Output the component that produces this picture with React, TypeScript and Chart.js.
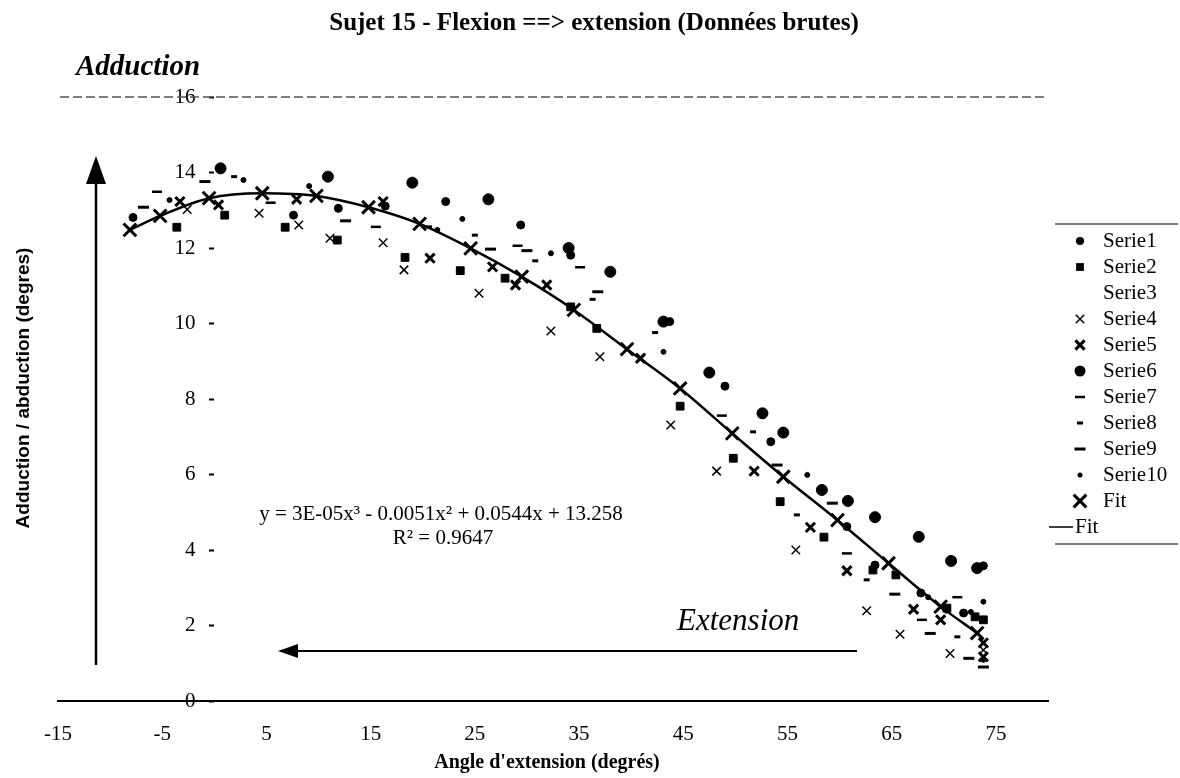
import React, { useEffect, useRef } from 'react';
import { Chart, registerables } from 'chart.js';

Chart.register(...registerables);

// ---------- data ----------
const X_TICKS = [-15, -5, 5, 15, 25, 35, 45, 55, 65, 75];
const Y_TICKS_STEP = 2;
const X_MIN = -15;
const X_MAX = 80;
const Y_MIN = 0;
const Y_MAX = 16;

const S1_X = [-7.8, 7.6, 11.9, 16.4, 22.2, 29.4, 34.2, 43.7, 49.0, 53.4, 60.7, 63.4, 67.8, 71.9, 73.8];
const S1_Y = [12.81, 12.87, 13.05, 13.11, 13.23, 12.61, 11.81, 10.05, 8.34, 6.87, 4.62, 3.6, 2.86, 2.33, 3.58];

const S2_X = [-3.6, 1.0, 6.8, 11.8, 18.3, 23.6, 27.9, 34.2, 36.7, 44.7, 49.8, 54.3, 58.5, 63.2, 65.4, 70.3, 73.0, 73.8];
const S2_Y = [12.55, 12.87, 12.55, 12.21, 11.75, 11.4, 11.2, 10.44, 9.87, 7.81, 6.43, 5.28, 4.34, 3.47, 3.34, 2.46, 2.23, 2.15];

const S3_X: number[] = [];
const S3_Y: number[] = [];

const S4_X = [-2.6, 4.3, 8.1, 11.1, 16.2, 18.2, 25.4, 32.3, 37.0, 43.8, 48.2, 55.8, 62.6, 65.8, 70.6, 73.8];
const S4_Y = [13.02, 12.92, 12.61, 12.26, 12.14, 11.42, 10.8, 9.8, 9.12, 7.31, 6.09, 4.0, 2.39, 1.77, 1.26, 1.35];

const S5_X = [-3.3, 0.4, 7.9, 16.2, 20.7, 26.7, 28.9, 31.9, 40.9, 51.8, 57.2, 60.7, 67.1, 69.7, 73.8, 73.8];
const S5_Y = [13.23, 13.14, 13.29, 13.23, 11.73, 11.5, 11.02, 11.02, 9.08, 6.09, 4.6, 3.45, 2.43, 2.15, 1.54, 1.17];

const S6_X = [0.6, 10.9, 19.0, 26.3, 34.0, 38.0, 43.1, 47.5, 52.6, 54.6, 58.3, 60.8, 63.4, 67.6, 70.7, 73.2];
const S6_Y = [14.11, 13.89, 13.73, 13.29, 12.0, 11.37, 10.05, 8.7, 7.62, 7.11, 5.59, 5.3, 4.87, 4.35, 3.71, 3.52];

const S7_X = [-5.5, 5.4, 15.5, 29.1, 35.1, 48.7, 60.7, 67.9, 71.3];
const S7_Y = [13.49, 13.2, 12.56, 12.06, 11.49, 7.56, 3.91, 2.15, 2.75];

const S8_X = [1.9, 20.6, 25.0, 30.8, 36.3, 42.3, 51.7, 55.9, 62.6, 71.3];
const S8_Y = [13.89, 12.56, 12.34, 11.66, 10.64, 9.76, 7.13, 4.93, 3.21, 1.7];

const S9_X = [-6.8, -0.9, 12.6, 26.5, 30.0, 36.8, 54.0, 59.3, 65.3, 68.7, 72.4, 73.8];
const S9_Y = [13.08, 13.76, 12.72, 11.97, 11.93, 10.84, 6.25, 5.24, 2.83, 1.79, 1.13, 0.9];

const S10_X = [-4.3, 2.8, 9.1, 21.4, 23.8, 32.3, 43.1, 56.9, 68.5, 72.6, 73.8, 73.8];
const S10_Y = [13.27, 13.8, 13.64, 12.48, 12.77, 11.86, 9.25, 5.99, 2.75, 2.36, 2.63, 1.09];

const FIT_X = [-8.1, -5.2, -0.5, 4.6, 9.8, 14.8, 19.7, 24.6, 29.5, 34.5, 39.6, 44.7, 49.7, 54.6, 59.8, 64.7, 69.7, 73.2];
const FIT_Y = [12.48, 12.85, 13.32, 13.45, 13.38, 13.08, 12.64, 11.99, 11.24, 10.36, 9.32, 8.28, 7.09, 5.94, 4.79, 3.65, 2.5, 1.8];

const TITLE = 'Sujet 15 - Flexion ==> extension (Données brutes)';
const X_TITLE = "Angle d'extension (degrés)";
const Y_TITLE = 'Adduction / abduction (degres)';
const TOP_NOTE = 'Adduction';
const ARROW_NOTE = 'Extension';
const EQUATION = 'y = 3E-05x³ - 0.0051x² + 0.0544x + 13.258';
const R2_TEXT = 'R² = 0.9647';

// ---------- helpers ----------
const pts = (xs: number[], ys: number[]) => xs.map((x, i) => ({ x, y: ys[i] }));

const SERIF = '"Liberation Serif", "Times New Roman", serif';
const SANS = '"Liberation Sans", Arial, sans-serif';

function drawMarker(ctx: CanvasRenderingContext2D, style: string, r: number, bw: number, x: number, y: number) {
  ctx.save();
  ctx.fillStyle = '#000';
  ctx.strokeStyle = '#000';
  ctx.lineWidth = bw;
  ctx.beginPath();
  if (style === 'circle') {
    ctx.arc(x, y, r, 0, Math.PI * 2);
    ctx.fill();
  } else if (style === 'rect') {
    const s = r * Math.SQRT1_2;
    ctx.rect(x - s, y - s, 2 * s, 2 * s);
    ctx.fill();
  } else if (style === 'crossRot') {
    const d = r * Math.SQRT1_2;
    ctx.moveTo(x - d, y - d);
    ctx.lineTo(x + d, y + d);
    ctx.moveTo(x - d, y + d);
    ctx.lineTo(x + d, y - d);
    ctx.stroke();
  } else if (style === 'line') {
    ctx.moveTo(x - r, y);
    ctx.lineTo(x + r, y);
    ctx.stroke();
  }
  ctx.restore();
}

const decoPlugin = {
  id: 'deco',
  beforeDraw(chart: any) {
    const ctx = chart.ctx as CanvasRenderingContext2D;
    ctx.save();
    ctx.fillStyle = '#fff';
    ctx.fillRect(0, 0, chart.width, chart.height);
    ctx.restore();
  },
  afterDraw(chart: any) {
    const ctx = chart.ctx as CanvasRenderingContext2D;
    const ys = chart.scales.y;
    ctx.save();
    ctx.fillStyle = '#000';
    ctx.strokeStyle = '#000';

    // title
    ctx.font = `bold 25px ${SERIF}`;
    ctx.textAlign = 'center';
    ctx.textBaseline = 'middle';
    ctx.fillText(TITLE, 594, 24);

    // "Adduction"
    ctx.font = `italic bold 29px ${SERIF}`;
    ctx.textAlign = 'left';
    ctx.fillText(TOP_NOTE, 76, 68);

    // top dashed line at max
    const yTop = ys.getPixelForValue(Y_MAX);
    ctx.save();
    ctx.strokeStyle = '#555';
    ctx.lineWidth = 1.5;
    ctx.setLineDash([9, 4]);
    ctx.beginPath();
    ctx.moveTo(60, yTop);
    ctx.lineTo(1046, yTop);
    ctx.stroke();
    ctx.restore();

    // Y title
    ctx.save();
    ctx.translate(24, 388);
    ctx.rotate(-Math.PI / 2);
    ctx.font = `bold 19px ${SANS}`;
    ctx.textAlign = 'center';
    ctx.textBaseline = 'middle';
    ctx.fillText(Y_TITLE, 0, 0);
    ctx.restore();

    // X title
    ctx.font = `bold 20px ${SERIF}`;
    ctx.textAlign = 'center';
    ctx.textBaseline = 'middle';
    ctx.fillText(X_TITLE, 547, 763);

    // vertical arrow
    ctx.lineWidth = 2.5;
    ctx.beginPath();
    ctx.moveTo(96, 665);
    ctx.lineTo(96, 180);
    ctx.stroke();
    ctx.beginPath();
    ctx.moveTo(96, 156);
    ctx.lineTo(86, 184);
    ctx.lineTo(106, 184);
    ctx.closePath();
    ctx.fill();

    // horizontal arrow
    ctx.lineWidth = 2;
    ctx.beginPath();
    ctx.moveTo(857, 651);
    ctx.lineTo(294, 651);
    ctx.stroke();
    ctx.beginPath();
    ctx.moveTo(278, 651);
    ctx.lineTo(298, 644);
    ctx.lineTo(298, 658);
    ctx.closePath();
    ctx.fill();

    // "Extension"
    ctx.font = `italic 31px ${SERIF}`;
    ctx.textAlign = 'left';
    ctx.textBaseline = 'middle';
    ctx.fillText(ARROW_NOTE, 677, 622);

    // equation
    ctx.font = `21px ${SERIF}`;
    ctx.textAlign = 'center';
    ctx.fillText(EQUATION, 441, 514);
    ctx.fillText(R2_TEXT, 443, 538);

    // legend
    const legTop = 241;
    const legStep = 26;
    const n = chart.data.datasets.length;
    ctx.lineWidth = 1.2;
    ctx.beginPath();
    ctx.moveTo(1055, legTop - 17);
    ctx.lineTo(1178, legTop - 17);
    ctx.moveTo(1055, legTop + (n - 1) * legStep + 17);
    ctx.lineTo(1178, legTop + (n - 1) * legStep + 17);
    ctx.stroke();
    ctx.font = `21px ${SERIF}`;
    ctx.textBaseline = 'middle';
    ctx.textAlign = 'left';
    chart.data.datasets.forEach((ds: any, i: number) => {
      const y = legTop + i * legStep;
      if (ds.showLine) {
        ctx.save();
        ctx.lineWidth = 1.5;
        ctx.beginPath();
        ctx.moveTo(1049, y);
        ctx.lineTo(1073, y);
        ctx.stroke();
        ctx.restore();
        ctx.fillText(ds.label, 1075, y);
      } else {
        if (ds.pointRadius > 0) {
          drawMarker(ctx, ds.pointStyle, ds.pointRadius, ds.borderWidth, 1080, y);
        }
        ctx.fillText(ds.label, 1103, y);
      }
    });
    ctx.restore();
  },
};

function makeDataset(label: string, xs: number[], ys: number[], style: string, r: number, bw: number) {
  return {
    label,
    data: pts(xs, ys),
    pointStyle: style,
    pointRadius: r,
    pointHoverRadius: r,
    borderWidth: bw,
    pointBorderWidth: bw,
    backgroundColor: '#000',
    borderColor: '#000',
    showLine: false,
  };
}

export default function App() {
  const ref = useRef<HTMLCanvasElement>(null);

  useEffect(() => {
    const canvas = ref.current;
    if (!canvas) return;
    const datasets: any[] = [
      makeDataset('Serie1', S1_X, S1_Y, 'circle', 4, 1),
      makeDataset('Serie2', S2_X, S2_Y, 'rect', 5.5, 1),
      makeDataset('Serie3', S3_X, S3_Y, 'circle', 0, 0),
      makeDataset('Serie4', S4_X, S4_Y, 'crossRot', 6, 1.5),
      makeDataset('Serie5', S5_X, S5_Y, 'crossRot', 6.5, 3),
      makeDataset('Serie6', S6_X, S6_Y, 'circle', 5.5, 1),
      makeDataset('Serie7', S7_X, S7_Y, 'line', 5, 2.5),
      makeDataset('Serie8', S8_X, S8_Y, 'line', 3, 3),
      makeDataset('Serie9', S9_X, S9_Y, 'line', 5.5, 3),
      makeDataset('Serie10', S10_X, S10_Y, 'circle', 2.5, 1),
      makeDataset('Fit', FIT_X, FIT_Y, 'crossRot', 9, 3),
      {
        label: 'Fit',
        data: pts(FIT_X, FIT_Y),
        showLine: true,
        pointRadius: 0,
        pointHoverRadius: 0,
        borderWidth: 2.5,
        borderColor: '#000',
        backgroundColor: '#000',
        cubicInterpolationMode: 'monotone',
        fill: false,
      },
    ];

    const yTickStyle = { family: SERIF, size: 21 };

    const chart = new Chart(canvas, {
      type: 'scatter',
      data: { datasets },
      options: {
        responsive: false,
        animation: false,
        devicePixelRatio: 1,
        layout: { padding: { left: 58, right: 132, top: 97, bottom: 0 } },
        plugins: {
          legend: { display: false },
          tooltip: { enabled: false },
          title: { display: false },
        },
        scales: {
          x: {
            type: 'linear',
            position: 'bottom',
            min: X_MIN,
            max: X_MAX,
            afterBuildTicks: (s: any) => {
              s.ticks = X_TICKS.map((v) => ({ value: v }));
            },
            afterFit: (s: any) => {
              s.height = 77;
            },
            grid: { display: false, drawTicks: false },
            border: { display: true, color: '#000', width: 2 },
            ticks: {
              autoSkip: false,
              maxRotation: 0,
              padding: 21,
              color: '#000',
              font: { family: SERIF, size: 21 },
              callback: (v: any) => String(v),
            },
          },
          // tick labels of the vertical axis (just left of x = 0)
          y: {
            type: 'linear',
            position: { x: -1.8 },
            min: Y_MIN,
            max: Y_MAX,
            ticks: {
              stepSize: Y_TICKS_STEP,
              color: '#000',
              font: yTickStyle,
            },
            grid: { display: false, drawTicks: false },
            border: { display: false },
          },
          // tick marks of the vertical axis, crossing at x = 0
          y2: {
            type: 'linear',
            position: { x: 0 },
            min: Y_MIN,
            max: Y_MAX,
            ticks: { stepSize: Y_TICKS_STEP, display: false },
            grid: {
              display: true,
              drawOnChartArea: false,
              drawTicks: true,
              tickLength: 5,
              tickColor: '#000',
              tickWidth: 2,
              color: '#000',
            },
            border: { display: false },
          },
        },
      } as any,
      plugins: [decoPlugin],
    });
    return () => chart.destroy();
  }, []);

  return (
    <div style={{ position: 'fixed', left: 0, top: 0, width: 1180, height: 778, background: '#fff' }}>
      <canvas ref={ref} width={1180} height={778} style={{ display: 'block', width: 1180, height: 778 }} />
    </div>
  );
}
